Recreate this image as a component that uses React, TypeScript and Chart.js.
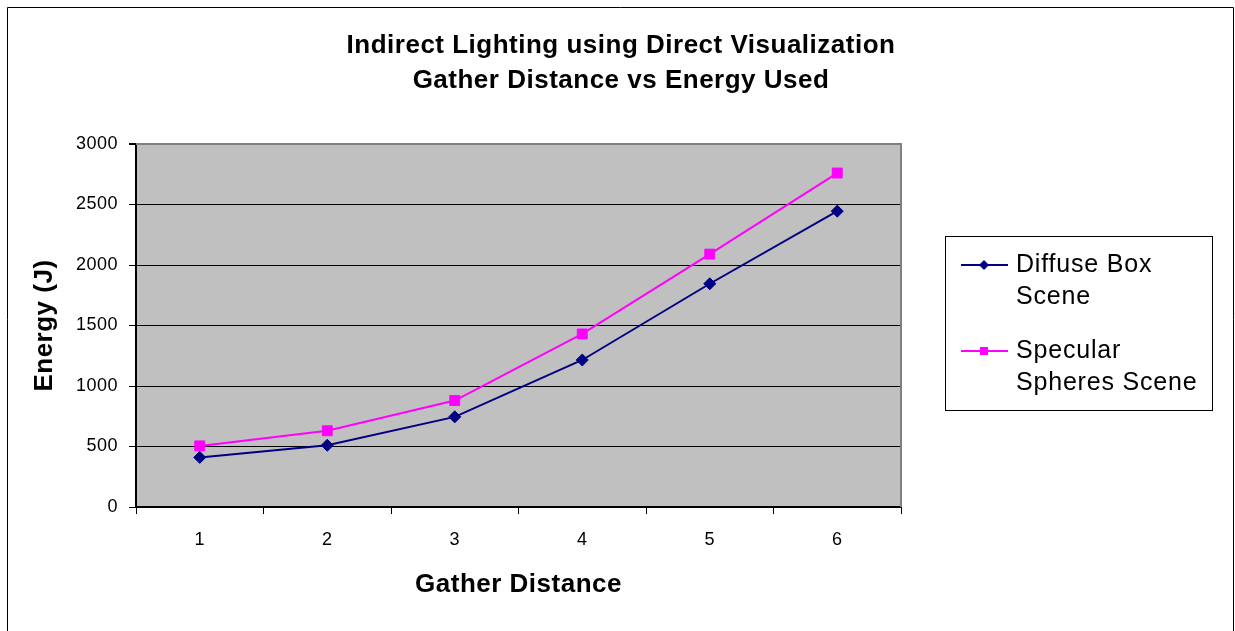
import React, { useEffect, useRef } from 'react';
import { Chart, registerables } from 'chart.js';

Chart.register(...registerables);

const categories = ['1', '2', '3', '4', '5', '6'];
const diffuseBoxScene = [410, 510, 745, 1215, 1845, 2445];
const specularSpheresScene = [505, 630, 880, 1430, 2090, 2760];
const yMin = 0;
const yMax = 3000;
const yStep = 500;
const titleLines = ['Indirect Lighting using Direct Visualization', 'Gather Distance vs Energy Used'];
const xTitle = 'Gather Distance';
const yTitle = 'Energy (J)';
const seriesNames = ['Diffuse Box Scene', 'Specular Spheres Scene'];
const legendLines = [['Diffuse Box', 'Scene'], ['Specular', 'Spheres Scene']];

const FAMILY = '"Liberation Sans", Arial, Helvetica, sans-serif';
const W = 1235;
const H = 631;

const decorPlugin = {
  id: 'decor',
  beforeLayout(chart: any) {
    (chart.ctx as any).letterSpacing = '0.5px';
  },
  beforeDraw(chart: any) {
    const ctx = chart.ctx;
    (ctx as any).letterSpacing = '0.5px';
    const a = chart.chartArea;
    ctx.save();
    ctx.fillStyle = '#ffffff';
    ctx.fillRect(0, 0, chart.width, chart.height);
    ctx.fillStyle = '#C0C0C0';
    ctx.fillRect(a.left, a.top, a.right - a.left, a.bottom - a.top);
    ctx.restore();
  },
  beforeDatasetsDraw(chart: any) {
    const ctx = chart.ctx;
    const a = chart.chartArea;
    ctx.save();
    ctx.strokeStyle = '#808080';
    ctx.lineWidth = 2;
    ctx.beginPath();
    ctx.moveTo(a.left, a.top);
    ctx.lineTo(a.right, a.top);
    ctx.lineTo(a.right, a.bottom);
    ctx.stroke();
    ctx.restore();
  },
  afterDraw(chart: any) {
    const ctx = chart.ctx;
    ctx.save();
    // outer frame
    ctx.strokeStyle = '#000000';
    ctx.lineWidth = 1;
    ctx.beginPath();
    ctx.moveTo(7.5, H + 5);
    ctx.lineTo(7.5, 7.5);
    ctx.lineTo(1233.5, 7.5);
    ctx.lineTo(1233.5, H + 5);
    ctx.stroke();

    // title
    (ctx as any).letterSpacing = '0.5px';
    ctx.fillStyle = '#000000';
    ctx.font = `bold 26px ${FAMILY}`;
    ctx.textAlign = 'center';
    ctx.textBaseline = 'middle';
    ctx.fillText(titleLines[0], 621, 46);
    ctx.fillText(titleLines[1], 621, 81);

    // legend
    ctx.lineWidth = 1;
    ctx.strokeStyle = '#000000';
    ctx.strokeRect(945.5, 236.5, 267, 174);
    (ctx as any).letterSpacing = '0.8px';
    ctx.font = `25px ${FAMILY}`;
    ctx.textAlign = 'left';
    const itemY = [265, 351];
    chart.data.datasets.forEach((ds: any, i: number) => {
      const y = itemY[i];
      ctx.strokeStyle = ds.borderColor;
      ctx.lineWidth = 2;
      ctx.beginPath();
      ctx.moveTo(961, y);
      ctx.lineTo(1008, y);
      ctx.stroke();
      ctx.fillStyle = ds.borderColor;
      if (ds.pointStyle === 'rectRot') {
        ctx.beginPath();
        ctx.moveTo(984, y - 5);
        ctx.lineTo(989, y);
        ctx.lineTo(984, y + 5);
        ctx.lineTo(979, y);
        ctx.closePath();
        ctx.fill();
      } else {
        ctx.fillRect(980, y - 4, 8, 8);
      }
      ctx.fillStyle = '#000000';
      legendLines[i].forEach((t, j) => {
        ctx.fillText(t, 1016, y + j * 32);
      });
    });
    ctx.restore();
  },
};

export default function App() {
  const ref = useRef<HTMLCanvasElement | null>(null);
  useEffect(() => {
    if (!ref.current) return;
    const chart = new Chart(ref.current, {
      type: 'line',
      data: {
        labels: categories,
        datasets: [
          {
            label: seriesNames[0],
            data: diffuseBoxScene,
            borderColor: '#000080',
            backgroundColor: '#000080',
            borderWidth: 2,
            pointStyle: 'rectRot',
            pointRadius: 6,
            pointBorderWidth: 1,
            pointBorderColor: '#000080',
            tension: 0,
          },
          {
            label: seriesNames[1],
            data: specularSpheresScene,
            borderColor: '#FF00FF',
            backgroundColor: '#FF00FF',
            borderWidth: 2,
            pointStyle: 'rect',
            pointRadius: 7,
            pointBorderWidth: 1,
            pointBorderColor: '#FF00FF',
            tension: 0,
          },
        ],
      },
      options: {
        responsive: false,
        animation: false,
        events: [],
        layout: { padding: { top: 144, right: 334, left: 0, bottom: 0 } },
        plugins: {
          legend: { display: false },
          tooltip: { enabled: false },
          title: { display: false },
        },
        scales: {
          x: {
            type: 'category',
            offset: true,
            grid: {
              offset: true,
              drawOnChartArea: false,
              drawTicks: true,
              tickLength: 7,
              tickColor: '#000000',
              color: '#000000',
            },
            border: { color: '#000000', width: 2 },
            ticks: {
              color: '#000000',
              font: { family: FAMILY, size: 18 },
              padding: 15,
              maxRotation: 0,
              autoSkip: false,
            },
            title: {
              display: true,
              text: xTitle,
              color: '#000000',
              font: { family: FAMILY, size: 26, weight: 'bold' },
              padding: { top: 31, bottom: 31 },
            },
            afterFit: (s: any) => {
              s.height = 124;
            },
          },
          y: {
            min: yMin,
            max: yMax,
            ticks: {
              stepSize: yStep,
              color: '#000000',
              font: { family: FAMILY, size: 18 },
              padding: 11,
              callback: (v: any) => String(v),
            },
            grid: {
              color: (c: any) => (c.tick && c.tick.value === yMax ? '#808080' : '#000000'),
              lineWidth: (c: any) => (c.tick && c.tick.value === yMax ? 2 : 1),
              tickColor: '#000000',
              tickLength: 7,
            },
            border: { color: '#000000', width: 2 },
            title: {
              display: true,
              text: yTitle,
              color: '#000000',
              font: { family: FAMILY, size: 26, weight: 'bold' },
              padding: { top: 29, bottom: 29 },
            },
            afterFit: (s: any) => {
              s.width = 136;
            },
          },
        },
      } as any,
      plugins: [decorPlugin],
    });
    return () => chart.destroy();
  }, []);
  return (
    <div style={{ position: 'absolute', left: 0, top: 0, width: W, height: H, background: '#ffffff' }}>
      <canvas ref={ref} width={W} height={H} style={{ display: 'block', width: W, height: H }} />
    </div>
  );
}
